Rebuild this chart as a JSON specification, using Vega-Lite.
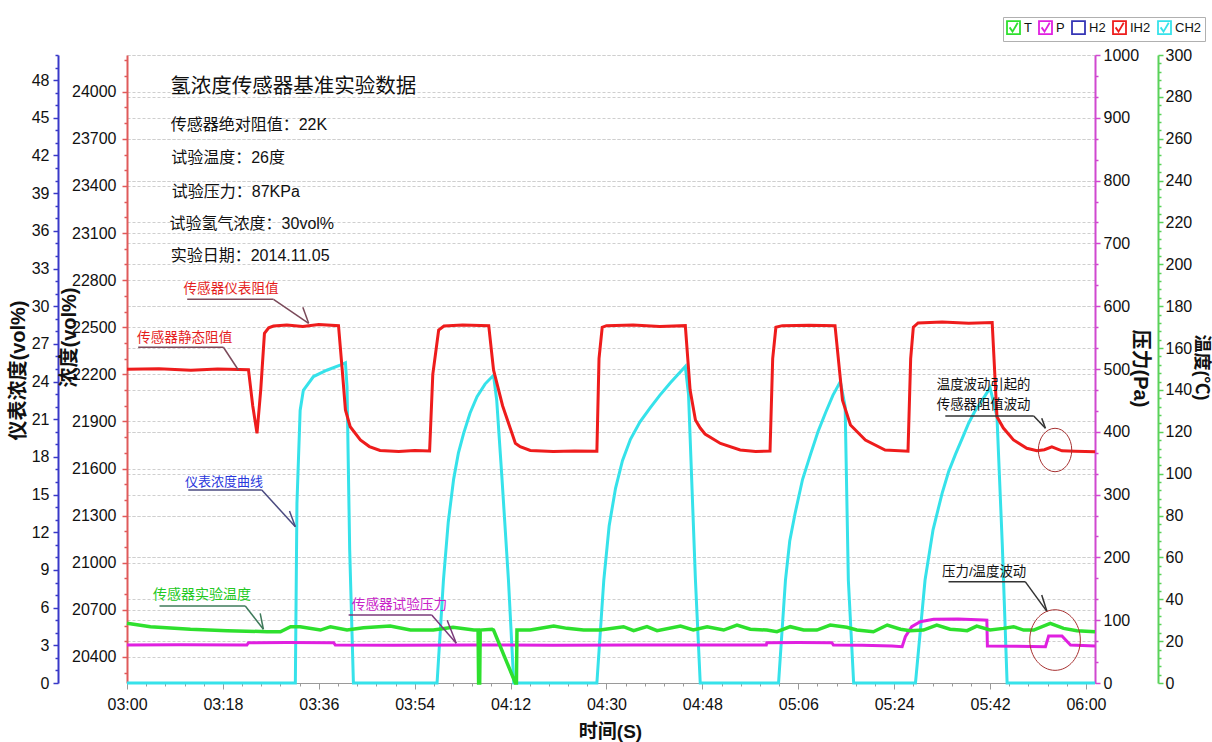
{
  "$schema": "https://vega.github.io/schema/vega-lite/v6.json",
  "width": 968,
  "height": 628,
  "autosize": "none",
  "padding": {"left": 127, "top": 55, "right": 117, "bottom": 59},
  "background": "white",
  "config": {
    "view": {"stroke": null},
    "font": "Liberation Sans, Noto Sans CJK SC",
    "axis": {"labelFontSize": 16, "labelColor": "#111", "titleColor": "#111", "titleFontSize": 20, "titleFontWeight": "bold", "gridColor": "#cfcfcf", "gridDash": [3, 2], "gridWidth": 1, "labelOverlap": false, "labelFlush": false}
  },
  "datasets": {
    "cyan": [
      {"t":180,"v":0},{"t":211.6,"v":0},{"t":211.9,"v":14.3},{"t":212.5,"v":21.7},{"t":213.1,"v":23.3},{"t":215.0,"v":24.4},{"t":217.5,"v":24.9},{"t":220.0,"v":25.3},{"t":221.0,"v":25.5},{"t":221.3,"v":23.6},{"t":221.8,"v":10.6},{"t":222.5,"v":0},
      {"t":238.2,"v":0},{"t":239.4,"v":8.2},{"t":240.3,"v":12.8},{"t":241.3,"v":16.2},{"t":242.2,"v":18.3},{"t":243.2,"v":19.9},{"t":244.4,"v":21.5},{"t":245.7,"v":22.8},{"t":247.2,"v":23.8},{"t":248.8,"v":24.5},{"t":249.4,"v":22.5},{"t":250.4,"v":16.2},{"t":251.6,"v":8.2},{"t":252.6,"v":0},
      {"t":268.2,"v":0},{"t":269.5,"v":8.2},{"t":270.5,"v":12.5},{"t":271.7,"v":15.5},{"t":273.0,"v":17.7},{"t":274.5,"v":19.4},{"t":276.3,"v":20.8},{"t":278.2,"v":21.9},{"t":280.0,"v":22.9},{"t":282.0,"v":23.9},{"t":284.8,"v":25.2},{"t":285.4,"v":23.0},{"t":286.7,"v":8.2},{"t":287.6,"v":0},
      {"t":302.3,"v":0},{"t":303.6,"v":8.2},{"t":304.4,"v":11.3},{"t":305.4,"v":13.5},{"t":306.8,"v":16.2},{"t":308.3,"v":18.2},{"t":309.7,"v":20.0},{"t":311.1,"v":21.5},{"t":312.5,"v":22.9},{"t":313.9,"v":24.0},{"t":314.8,"v":22.0},{"t":315.4,"v":8.2},{"t":316.4,"v":0},
      {"t":328.0,"v":0},{"t":329.8,"v":8.2},{"t":331.3,"v":12.2},{"t":333.0,"v":15.1},{"t":334.2,"v":16.8},{"t":335.5,"v":18.2},{"t":336.8,"v":19.5},{"t":338.0,"v":20.7},{"t":339.1,"v":21.6},{"t":340.2,"v":22.3},{"t":342.0,"v":23.5},{"t":343.3,"v":21.2},{"t":344.3,"v":11},{"t":345.2,"v":0},{"t":361.7,"v":0}
    ],
    "red": [
      {"t":180,"v":22232},{"t":186,"v":22236},{"t":192,"v":22226},{"t":197,"v":22234},{"t":202.8,"v":22230},{"t":203.6,"v":22000},{"t":204.4,"v":21824},{"t":205.1,"v":22100},{"t":205.8,"v":22461},{"t":206.6,"v":22496},{"t":207.5,"v":22508},{"t":210,"v":22515},{"t":213,"v":22505},{"t":216,"v":22518},{"t":219.7,"v":22510},
      {"t":220.4,"v":22228},{"t":221.0,"v":21973},{"t":221.9,"v":21866},{"t":223.8,"v":21782},{"t":225.5,"v":21740},{"t":227.5,"v":21715},{"t":231,"v":21708},{"t":234,"v":21715},{"t":236.8,"v":21712},
      {"t":237.4,"v":22200},{"t":238.5,"v":22482},{"t":239.5,"v":22508},{"t":243,"v":22515},{"t":247.9,"v":22510},{"t":248.8,"v":22228},{"t":250.5,"v":22000},{"t":252.9,"v":21761},{"t":253.8,"v":21739},{"t":255.7,"v":21715},{"t":260,"v":21708},{"t":264,"v":21712},{"t":268.2,"v":21710},
      {"t":268.6,"v":22300},{"t":269.2,"v":22500},{"t":270,"v":22510},{"t":275,"v":22515},{"t":280,"v":22505},{"t":284.8,"v":22510},{"t":285.7,"v":22100},{"t":286.7,"v":21909},{"t":287.6,"v":21858},{"t":288.5,"v":21820},{"t":291.4,"v":21760},{"t":295.1,"v":21718},{"t":298,"v":21708},{"t":300.7,"v":21712},
      {"t":301.2,"v":22300},{"t":301.8,"v":22500},{"t":303,"v":22510},{"t":308,"v":22512},{"t":312.9,"v":22510},{"t":314.3,"v":22036},{"t":315.8,"v":21877},{"t":318.6,"v":21782},{"t":322.3,"v":21718},{"t":326.6,"v":21710},
      {"t":327.1,"v":22300},{"t":327.6,"v":22500},{"t":328.5,"v":22527},{"t":333,"v":22533},{"t":338,"v":22525},{"t":342.4,"v":22530},{"t":343.3,"v":21930},{"t":344.5,"v":21858},{"t":346.4,"v":21782},{"t":348.9,"v":21729},{"t":350.8,"v":21713},{"t":352.2,"v":21720},{"t":353.6,"v":21738},{"t":355.5,"v":21713},{"t":358,"v":21710},{"t":361.7,"v":21707}
    ],
    "pink": [
      {"t":180,"v":60.5},{"t":190,"v":60.8},{"t":202.5,"v":60.5},{"t":202.8,"v":64.2},{"t":210,"v":64.5},{"t":218.8,"v":64.2},{"t":219.1,"v":60.5},{"t":230,"v":60},{"t":245,"v":60.5},{"t":260,"v":60.3},{"t":275,"v":60.5},{"t":290,"v":60.6},{"t":300.0,"v":60.5},{"t":300.1,"v":64.2},{"t":306,"v":64.4},{"t":312.3,"v":64.2},{"t":312.6,"v":60.5},{"t":318,"v":60.2},{"t":323.6,"v":59},{"t":325.5,"v":57.8},{"t":326.1,"v":73.7},{"t":327.3,"v":89.6},{"t":328.9,"v":97.6},{"t":331.4,"v":101.4},{"t":336,"v":101.8},{"t":340.8,"v":100.3},{"t":341.4,"v":100},{"t":341.5,"v":58.9},{"t":347,"v":58.5},{"t":352.4,"v":57.8},{"t":353.0,"v":74.8},{"t":355.5,"v":74.8},{"t":357.1,"v":60.5},{"t":361.7,"v":58.9}
    ],
    "green": [
      {"t":180,"v":28.5},{"t":184.4,"v":26.9},{"t":191.9,"v":25.7},{"t":198.8,"v":25.0},{"t":206.3,"v":24.5},{"t":208.8,"v":24.5},{"t":210.7,"v":26.9},{"t":212.5,"v":26.9},{"t":216.3,"v":25.3},{"t":218.2,"v":26.9},{"t":221.3,"v":25.3},{"t":224.4,"v":26.4},{"t":229.4,"v":27.2},{"t":233.2,"v":25.3},{"t":237.5,"v":25.3},{"t":241.2,"v":26.6},{"t":245.1,"v":25.3},{"t":245.9,"v":25.3},{"t":246.0,"v":0},{"t":246.2,"v":0},{"t":246.3,"v":25.3},{"t":248.5,"v":25.7},{"t":248.8,"v":25.3},{"t":252.9,"v":0},{"t":253.1,"v":0},{"t":253.2,"v":25.3},{"t":255.7,"v":25.3},{"t":260.1,"v":27.2},{"t":262.6,"v":26.1},{"t":265.7,"v":25.3},{"t":268.8,"v":25.3},{"t":273.2,"v":26.9},{"t":275.1,"v":25.0},{"t":277.6,"v":26.9},{"t":279.5,"v":25.0},{"t":283.9,"v":27.2},{"t":286.3,"v":25.3},{"t":288.9,"v":26.9},{"t":292.0,"v":25.3},{"t":294.5,"v":27.7},{"t":297.0,"v":25.7},{"t":300.1,"v":25.3},{"t":302.0,"v":24.5},{"t":304.5,"v":26.9},{"t":307.0,"v":25.3},{"t":309.5,"v":25.3},{"t":312.0,"v":27.7},{"t":315.1,"v":26.6},{"t":317.0,"v":25.3},{"t":320.1,"v":24.5},{"t":322.7,"v":27.7},{"t":325.2,"v":25.7},{"t":327.0,"v":25.0},{"t":329.5,"v":25.3},{"t":332.0,"v":27.7},{"t":334.5,"v":25.7},{"t":336.4,"v":25.3},{"t":337.7,"v":25.0},{"t":339.5,"v":27.2},{"t":342.0,"v":25.3},{"t":344.5,"v":26.1},{"t":346.4,"v":26.9},{"t":348.3,"v":25.3},{"t":350.2,"v":25.3},{"t":353.3,"v":28.5},{"t":355.8,"v":26.1},{"t":358.3,"v":25.0},{"t":361.7,"v":24.5}
    ]
  },
  "encoding": {
    "x": {"field": "t", "type": "quantitative", "scale": {"domain": [180, 361.7], "nice": false, "zero": false},
      "axis": {"values": [180,183.6,187.2,190.8,194.4,198,201.6,205.2,208.8,212.4,216,219.6,223.2,226.8,230.4,234,237.6,241.2,244.8,248.4,252,255.6,259.2,262.8,266.4,270,273.6,277.2,280.8,284.4,288,291.6,295.2,298.8,302.4,306,309.6,313.2,316.8,320.4,324,327.6,331.2,334.8,338.4,342,345.6,349.2,352.8,356.4,360],
        "labelExpr": "abs(datum.value/18 - round(datum.value/18)) < 0.001 ? timeFormat(datetime(2014,10,5,0,datum.value),'%H:%M') : ''",
        "tickSize": {"condition": {"test": "abs(datum.value/18 - round(datum.value/18)) < 0.001", "value": 6}, "value": 3},
        "domainColor": "#9a9a9a", "tickColor": "#9a9a9a", "labelPadding": 7, "grid": false,
        "title": "时间(S)", "titleX": 483, "titleY": 48, "titleBaseline": "middle", "titleFontSize": 19}}
  },
  "layer": [
    {
      "data": {"name": "cyan"},
      "mark": {"type": "line", "strokeWidth": 3},
      "encoding": {
        "y": {"field": "v", "type": "quantitative", "scale": {"domain": [0, 50], "nice": false, "zero": false},
          "axis": {"orient": "left", "offset": 69, "values": [0,1,2,3,4,5,6,7,8,9,10,11,12,13,14,15,16,17,18,19,20,21,22,23,24,25,26,27,28,29,30,31,32,33,34,35,36,37,38,39,40,41,42,43,44,45,46,47,48,49,50],
            "labelExpr": "datum.value % 3 === 0 ? datum.label : ''",
            "tickSize": {"condition": {"test": "datum.value % 3 === 0", "value": 5}, "value": 3},
            "domainColor": "#3838c8", "domainWidth": 2, "tickColor": "#3838c8", "tickWidth": 1.5, "labelPadding": 4, "grid": false,
            "title": "仪表浓度(vol%)", "titleX": -40, "titleY": 315, "titleBaseline": "middle"}},
        "color": {"datum": "CH2", "type": "nominal",
          "scale": {"domain": ["T", "P", "H2", "IH2", "CH2"], "range": ["#2ee02e", "#e020e0", "#3535b5", "#ee1c1c", "#36e2ea"]},
          "legend": {"orient": "none", "legendX": 876, "legendY": -38, "direction": "horizontal", "title": null,
            "symbolType": "M-1,-1H1V1H-1Z M-0.6,-0.05L-0.15,0.6L0.65,-0.75", "symbolSize": 169, "symbolStrokeWidth": 1.8, "symbolFillColor": "transparent",
            "labelFontSize": 13, "labelColor": "#111", "labelOffset": 3, "columnPadding": 3, "strokeColor": "#b0b0b0", "fillColor": "white", "padding": 3,
            "encode": {"symbols": {"update": {"shape": {"signal": "datum.value === 'H2' ? 'square' : 'M-1,-1H1V1H-1Z M-0.6,-0.05L-0.15,0.6L0.65,-0.75'"}}}}}}
      }
    },
    {
      "data": {"name": "red"},
      "mark": {"type": "line", "strokeWidth": 3},
      "encoding": {
        "y": {"field": "v", "type": "quantitative", "scale": {"domain": [20234, 24234], "nice": false, "zero": false},
          "axis": {"orient": "left", "offset": 0, "format": "d", "values": [20300,20400,20500,20600,20700,20800,20900,21000,21100,21200,21300,21400,21500,21600,21700,21800,21900,22000,22100,22200,22300,22400,22500,22600,22700,22800,22900,23000,23100,23200,23300,23400,23500,23600,23700,23800,23900,24000,24100,24200],
            "labelExpr": "datum.value % 300 === 0 ? datum.label : ''",
            "tickSize": {"condition": {"test": "datum.value % 300 === 0", "value": 5}, "value": 3},
            "domainColor": "#e05a5a", "domainWidth": 2, "tickColor": "#e05a5a", "tickWidth": 1.5, "labelPadding": 6,
            "grid": true, "gridOpacity": {"condition": {"test": "datum.value % 300 === 0", "value": 1}, "value": 0},
            "title": "浓度(vol%)", "titleX": -58, "titleY": 282, "titleBaseline": "middle"}},
        "color": {"datum": "IH2", "type": "nominal"}
      }
    },
    {
      "data": {"name": "pink"},
      "mark": {"type": "line", "strokeWidth": 3},
      "encoding": {
        "y": {"field": "v", "type": "quantitative", "scale": {"domain": [0, 1000], "nice": false, "zero": false},
          "axis": {"orient": "right", "offset": 0, "format": "d", "values": [0,33.33,66.67,100,133.33,166.67,200,233.33,266.67,300,333.33,366.67,400,433.33,466.67,500,533.33,566.67,600,633.33,666.67,700,733.33,766.67,800,833.33,866.67,900,933.33,966.67,1000],
            "labelExpr": "datum.value % 100 === 0 ? datum.label : ''",
            "tickSize": {"condition": {"test": "datum.value % 100 === 0", "value": 5}, "value": 3},
            "domainColor": "#d048d0", "domainWidth": 2, "tickColor": "#d048d0", "tickWidth": 1.5, "labelPadding": 3,
            "grid": true, "gridOpacity": {"condition": {"test": "datum.value % 100 === 0", "value": 1}, "value": 0},
            "title": "压力(Pa)", "titleX": 44, "titleY": 313, "titleBaseline": "middle", "titleAngle": 90}},
        "color": {"datum": "P", "type": "nominal"}
      }
    },
    {
      "data": {"name": "green"},
      "mark": {"type": "line", "strokeWidth": 3.5},
      "encoding": {
        "y": {"field": "v", "type": "quantitative", "scale": {"domain": [0, 300], "nice": false, "zero": false},
          "axis": {"orient": "right", "offset": 63, "values": [0,4,8,12,16,20,24,28,32,36,40,44,48,52,56,60,64,68,72,76,80,84,88,92,96,100,104,108,112,116,120,124,128,132,136,140,144,148,152,156,160,164,168,172,176,180,184,188,192,196,200,204,208,212,216,220,224,228,232,236,240,244,248,252,256,260,264,268,272,276,280,284,288,292,296,300],
            "labelExpr": "datum.value % 20 === 0 ? datum.label : ''",
            "tickSize": {"condition": {"test": "datum.value % 20 === 0", "value": 5}, "value": 3},
            "domainColor": "#5ad25a", "domainWidth": 2, "tickColor": "#5ad25a", "tickWidth": 1.5, "labelPadding": 2,
            "grid": true, "gridOpacity": {"condition": {"test": "datum.value % 20 === 0", "value": 1}, "value": 0},
            "title": "温度(℃)", "titleX": 42, "titleY": 312, "titleBaseline": "middle", "titleAngle": 90, "titleFontSize": 18}},
        "color": {"datum": "T", "type": "nominal"}
      }
    },
    {
      "encoding": {
        "y": {"field": "b", "type": "quantitative", "scale": {"domain": [0, 50], "nice": false, "zero": false}, "axis": null}
      },
      "layer": [
        {"data": {"values": [{"t": 188.1, "b": 47.45, "txt": "氢浓度传感器基准实验数据"}]},
         "mark": {"type": "text", "align": "left", "baseline": "middle", "fontSize": 20.5, "color": "#111"},
         "encoding": {"text": {"field": "txt"}}},
        {"data": {"values": [
            {"t": 188.2, "b": 44.43, "txt": "传感器绝对阻值：22K"},
            {"t": 188.3, "b": 41.78, "txt": "试验温度：26度"},
            {"t": 188.4, "b": 39.12, "txt": "试验压力：87KPa"},
            {"t": 188.0, "b": 36.54, "txt": "试验氢气浓度：30vol%"},
            {"t": 188.2, "b": 33.99, "txt": "实验日期：2014.11.05"}]},
         "mark": {"type": "text", "align": "left", "baseline": "middle", "fontSize": 16, "color": "#111"},
         "encoding": {"text": {"field": "txt"}}},
        {"data": {"values": [
            {"t": 190.6, "b": 31.37, "txt": "传感器仪表阻值"},
            {"t": 181.9, "b": 27.47, "txt": "传感器静态阻值"}]},
         "mark": {"type": "text", "align": "left", "baseline": "middle", "fontSize": 13.6, "color": "#e41e1e"},
         "encoding": {"text": {"field": "txt"}}},
        {"data": {"values": [{"t": 190.9, "b": 16.03, "txt": "仪表浓度曲线"}]},
         "mark": {"type": "text", "align": "left", "baseline": "middle", "fontSize": 13, "color": "#2a38dc"},
         "encoding": {"text": {"field": "txt"}}},
        {"data": {"values": [{"t": 184.9, "b": 7.0, "txt": "传感器实验温度"}]},
         "mark": {"type": "text", "align": "left", "baseline": "middle", "fontSize": 14, "color": "#22c822"},
         "encoding": {"text": {"field": "txt"}}},
        {"data": {"values": [{"t": 222.2, "b": 6.21, "txt": "传感器试验压力"}]},
         "mark": {"type": "text", "align": "left", "baseline": "middle", "fontSize": 13.6, "color": "#c824c8"},
         "encoding": {"text": {"field": "txt"}}},
        {"data": {"values": [
            {"t": 332.0, "b": 23.73, "txt": "温度波动引起的"},
            {"t": 332.0, "b": 22.13, "txt": "传感器阻值波动"},
            {"t": 333.0, "b": 8.86, "txt": "压力/温度波动"}]},
         "mark": {"type": "text", "align": "left", "baseline": "middle", "fontSize": 13.4, "color": "#111"},
         "encoding": {"text": {"field": "txt"}}},
        {"data": {"values": [
            {"t": 191.3, "b": 30.55, "t2": 207.5, "b2": 30.55},
            {"t": 207.5, "b": 30.55, "t2": 214.1, "b2": 28.64},
            {"t": 213.0, "b": 29.91, "t2": 214.1, "b2": 28.64},
            {"t": 182.1, "b": 26.73, "t2": 198.1, "b2": 26.73},
            {"t": 198.1, "b": 26.73, "t2": 200.9, "b2": 24.92}]},
         "mark": {"type": "rule", "color": "#7a4a5a", "strokeWidth": 1.5},
         "encoding": {"x2": {"field": "t2"}, "y2": {"field": "b2"}}},
        {"data": {"values": [
            {"t": 191.5, "b": 15.37, "t2": 205.3, "b2": 15.37},
            {"t": 205.3, "b": 15.37, "t2": 211.6, "b2": 12.44},
            {"t": 210.5, "b": 13.69, "t2": 211.6, "b2": 12.44}]},
         "mark": {"type": "rule", "color": "#4a4a80", "strokeWidth": 1.5},
         "encoding": {"x2": {"field": "t2"}, "y2": {"field": "b2"}}},
        {"data": {"values": [
            {"t": 186.1, "b": 6.13, "t2": 202.2, "b2": 6.13},
            {"t": 202.2, "b": 6.13, "t2": 205.6, "b2": 4.28},
            {"t": 205.0, "b": 5.55, "t2": 205.6, "b2": 4.28}]},
         "mark": {"type": "rule", "color": "#3e7a5a", "strokeWidth": 1.5},
         "encoding": {"x2": {"field": "t2"}, "y2": {"field": "b2"}}},
        {"data": {"values": [
            {"t": 221.6, "b": 5.41, "t2": 237.2, "b2": 5.41},
            {"t": 237.2, "b": 5.41, "t2": 241.8, "b2": 3.16},
            {"t": 240.1, "b": 5.0, "t2": 241.8, "b2": 3.16}]},
         "mark": {"type": "rule", "color": "#7a3a7a", "strokeWidth": 1.5},
         "encoding": {"x2": {"field": "t2"}, "y2": {"field": "b2"}}},
        {"data": {"values": [
            {"t": 333.6, "b": 21.26, "t2": 350.2, "b2": 21.26},
            {"t": 350.2, "b": 21.26, "t2": 352.4, "b2": 20.28},
            {"t": 351.7, "b": 21.08, "t2": 352.4, "b2": 20.28},
            {"t": 334.2, "b": 8.07, "t2": 348.6, "b2": 8.07},
            {"t": 348.6, "b": 8.07, "t2": 352.7, "b2": 5.68},
            {"t": 351.7, "b": 7.0, "t2": 352.7, "b2": 5.68}]},
         "mark": {"type": "rule", "color": "#333333", "strokeWidth": 1.5},
         "encoding": {"x2": {"field": "t2"}, "y2": {"field": "b2"}}},
        {"data": {"values": [{"t": 354.2, "b": 18.55}]},
         "mark": {"type": "point", "filled": false, "stroke": "#a83232", "strokeWidth": 1, "opacity": 1, "size": 1884, "shape": "M0.77,0A0.77,1 0 1,1 -0.77,0A0.77,1 0 1,1 0.77,0Z"}},
        {"data": {"values": [{"t": 354.2, "b": 3.42}]},
         "mark": {"type": "point", "filled": false, "stroke": "#a83232", "strokeWidth": 1, "opacity": 1, "size": 3672, "shape": "M0.835,0A0.835,1 0 1,1 -0.835,0A0.835,1 0 1,1 0.835,0Z"}}
      ]
    }
  ],
  "resolve": {"scale": {"y": "independent"}, "axis": {"y": "independent"}}
}
